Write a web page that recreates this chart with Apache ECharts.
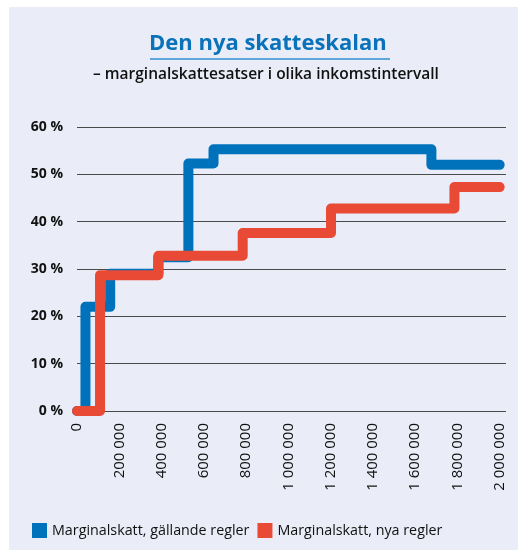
<!DOCTYPE html>
<html>
<head>
<meta charset="utf-8">
<script src="https://cdn.jsdelivr.net/npm/echarts@6/dist/echarts.min.js"></script>
<style>
html, body { margin: 0; padding: 0; background: #ffffff; }
#chart { position: absolute; left: 9px; top: 7px; width: 509px; height: 543px; background: #eaedf8; }
</style>
</head>
<body>
<div id="chart"></div>
<script>
var titleText = 'Den nya skatteskalan';
var subText = '– marginalskattesatser i olika inkomstintervall';
var seriesNames = ['Marginalskatt, gällande regler', 'Marginalskatt, nya regler'];

// inkomst där en ny skattesats börjar, och satsen (%)
var oldIncome = [0, 40000, 157000, 385000, 527000, 646000, 1677000, 2000000];
var oldRate   = [0, 22, 29, 32.5, 52.3, 55.3, 52, 52];
var newIncome = [0, 109000, 385000, 784000, 1202000, 1786000, 2000000];
var newRate   = [0, 28.7, 32.8, 37.6, 42.8, 47.3, 47.3];

var yTicks = [0, 10, 20, 30, 40, 50, 60];

function pairs(xs, ys) {
  var out = [];
  for (var i = 0; i < xs.length; i++) out.push([xs[i], ys[i]]);
  return out;
}

function fmtKr(v) {
  return String(v).replace(/\B(?=(\d{3})+(?!\d))/g, ' ');
}

var myChart = echarts.init(document.getElementById('chart'));
var font = '"Open Sans", sans-serif';

var option = {
  animation: false,
  graphic: [{
    type: 'text',
    left: 140, top: 26,
    style: { text: titleText, fill: '#0a72b9', font: 'bold 22px "Open Sans"' }
  }, {
    type: 'rect',
    shape: { x: 141, y: 51, width: 240, height: 2 },
    style: { fill: '#5ea6db' }
  }, {
    type: 'text',
    left: 84, top: 60,
    style: { text: subText, fill: '#111111', font: '600 15.5px "Open Sans"' }
  }],
  legend: {
    left: 18,
    bottom: 7,
    itemWidth: 15,
    itemHeight: 15,
    itemGap: 8,
    icon: 'rect',
    textStyle: { color: '#111111', fontSize: 14.3, fontFamily: font },
    data: seriesNames
  },
  grid: { left: 68, right: 12, top: 120, bottom: 139, containLabel: false },
  xAxis: {
    type: 'value',
    min: 0,
    max: 2030000,
    interval: 200000,
    axisLine: { show: false },
    axisTick: { show: false },
    splitLine: { show: false },
    axisLabel: {
      rotate: 90,
      margin: 12,
      showMaxLabel: false,
      color: '#111111',
      fontSize: 15,
      fontFamily: font,
      formatter: function (v) { return v > 2000000 ? '' : fmtKr(v); }
    }
  },
  yAxis: {
    type: 'value',
    min: yTicks[0],
    max: yTicks[yTicks.length - 1],
    interval: 10,
    axisLine: { show: false },
    axisTick: { show: false },
    splitLine: { lineStyle: { color: '#4a4a4a', width: 1 } },
    axisLabel: {
      margin: 14,
      color: '#111111',
      fontSize: 14,
      fontWeight: 'bold',
      fontFamily: font,
      formatter: function (v) { return v + ' %'; }
    }
  },
  series: [{
    name: seriesNames[0],
    type: 'line',
    step: 'end',
    symbol: 'none',
    data: pairs(oldIncome, oldRate),
    itemStyle: { color: '#0071bb' },
    lineStyle: { color: '#0071bb', width: 10, cap: 'round', join: 'round' },
    z: 2
  }, {
    name: seriesNames[1],
    type: 'line',
    step: 'end',
    symbol: 'none',
    data: pairs(newIncome, newRate),
    itemStyle: { color: '#e94a35' },
    lineStyle: { color: '#e94a35', width: 10, cap: 'round', join: 'round' },
    z: 3
  }]
};
myChart.setOption(option);
</script>
</body>
</html>
